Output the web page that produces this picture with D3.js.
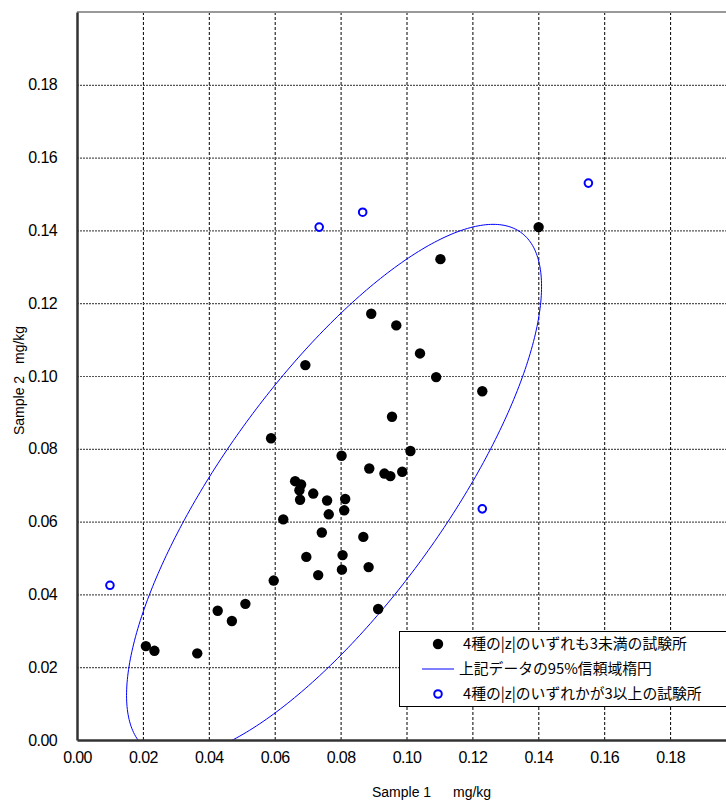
<!DOCTYPE html>
<html>
<head>
<meta charset="utf-8">
<script src="https://cdn.jsdelivr.net/npm/d3@7"></script>
<style>
  html, body { margin: 0; padding: 0; background: #fff; overflow: hidden; }
  svg { display: block; }
  text { font-family: "Liberation Sans", Arial, sans-serif; fill: #000; }
  .jp { font-family: "Noto Sans CJK JP", sans-serif; }
</style>
</head>
<body>
<svg id="chart" width="726" height="803"></svg>
<script>
// Laboratories whose four |z| scores are all below 3
const sample1 = [0.0209, 0.0235, 0.0365, 0.0427, 0.0470, 0.0511, 0.0597, 0.0589, 0.0626, 0.0662,
                 0.0680, 0.0675, 0.0677, 0.0717, 0.0759, 0.0814, 0.0811, 0.0764, 0.0743, 0.0869,
                 0.0696, 0.0806, 0.0885, 0.0732, 0.0804, 0.0914, 0.0803, 0.0887, 0.0933, 0.0951,
                 0.0987, 0.1012, 0.0693, 0.0893, 0.0969, 0.1041, 0.1090, 0.1103, 0.0956, 0.1401,
                 0.1230];
const sample2 = [0.0258, 0.0245, 0.0238, 0.0355, 0.0327, 0.0374, 0.0438, 0.0829, 0.0606, 0.0711,
                 0.0702, 0.0686, 0.0660, 0.0677, 0.0658, 0.0662, 0.0631, 0.0620, 0.0570, 0.0558,
                 0.0503, 0.0508, 0.0475, 0.0453, 0.0468, 0.0360, 0.0781, 0.0746, 0.0732, 0.0725,
                 0.0737, 0.0794, 0.1030, 0.1171, 0.1139, 0.1062, 0.0997, 0.1321, 0.0888, 0.1409,
                 0.0958];
// Laboratories with at least one |z| of 3 or more
const outSample1 = [0.0100, 0.0735, 0.0867, 0.1552, 0.1230];
const outSample2 = [0.0425, 0.1409, 0.1450, 0.1530, 0.0635];

const tickValues = [0.00, 0.02, 0.04, 0.06, 0.08, 0.10, 0.12, 0.14, 0.16, 0.18];
const legendLabels = [
  "4種の|z|のいずれも3未満の試験所",
  "上記データの95%信頼域楕円",
  "4種の|z|のいずれかが3以上の試験所"
];
const xTitle = ["Sample 1", "mg/kg"];
const yTitle = ["Sample 2", "mg/kg"];
const F_95_2_39 = 3.238;   // F quantile, 95 %, (2, n-2) degrees of freedom

const svg = d3.select("#chart");
const plot = { left: 77, right: 736, top: 12, bottom: 740 };

const x = d3.scaleLinear().domain([0, 0.20]).range([plot.left, plot.right]);
const y = d3.scaleLinear().domain([0, 0.20]).range([plot.bottom, plot.top]);

svg.append("defs").append("clipPath").attr("id", "plotClip")
  .append("rect")
  .attr("x", plot.left).attr("y", plot.top)
  .attr("width", plot.right - plot.left).attr("height", plot.bottom - plot.top);

// grid
const gridV = svg.append("g")
  .attr("transform", `translate(0,${plot.bottom})`)
  .call(d3.axisBottom(x).tickValues(tickValues.slice(1).concat([0.20]))
    .tickSize(-(plot.bottom - plot.top)).tickFormat(""));
gridV.select(".domain").remove();
gridV.selectAll("line").attr("stroke", "#000").attr("stroke-width", 1).attr("stroke-dasharray", "3,2");

const gridH = svg.append("g")
  .attr("transform", `translate(${plot.left},0)`)
  .call(d3.axisLeft(y).tickValues(tickValues.slice(1))
    .tickSize(-(plot.right - plot.left)).tickFormat(""));
gridH.select(".domain").remove();
gridH.selectAll("line").attr("stroke", "#555").attr("stroke-width", 1.2).attr("stroke-dasharray", "2,1");

// frame
svg.append("line").attr("x1", plot.left).attr("x2", plot.right)
  .attr("y1", plot.top).attr("y2", plot.top)
  .attr("stroke", "#999").attr("stroke-width", 2);

// 95 % confidence ellipse from the mean and covariance of the in-range points
const n = sample1.length;
const mx = d3.mean(sample1), my = d3.mean(sample2);
let sxx = 0, syy = 0, sxy = 0;
for (let i = 0; i < n; i++) {
  const dx = sample1[i] - mx, dy = sample2[i] - my;
  sxx += dx * dx; syy += dy * dy; sxy += dx * dy;
}
sxx /= (n - 1); syy /= (n - 1); sxy /= (n - 1);
const k = Math.sqrt(2 * (n - 1) / (n - 2) * F_95_2_39);
const a = Math.sqrt(sxx), b = sxy / a, c = Math.sqrt(syy - b * b);
const ellipse = d3.range(0, 361).map(d => {
  const t = d * Math.PI / 180;
  return [mx + k * a * Math.cos(t), my + k * (b * Math.cos(t) + c * Math.sin(t))];
});
svg.append("path")
  .attr("clip-path", "url(#plotClip)")
  .attr("d", d3.line().x(d => x(d[0])).y(d => y(d[1]))(ellipse))
  .attr("fill", "none").attr("stroke", "#0000ff").attr("stroke-width", 1);

// points
svg.append("g").selectAll("circle")
  .data(sample1.map((v, i) => [v, sample2[i]]))
  .join("circle")
  .attr("cx", d => x(d[0])).attr("cy", d => y(d[1])).attr("r", 5.2)
  .attr("fill", "#000");

svg.append("g").selectAll("circle")
  .data(outSample1.map((v, i) => [v, outSample2[i]]))
  .join("circle")
  .attr("cx", d => x(d[0])).attr("cy", d => y(d[1])).attr("r", 3.8)
  .attr("fill", "#fff").attr("stroke", "#0000ff").attr("stroke-width", 2);

// axes
const fmt = d3.format(".2f");
const xAxis = svg.append("g")
  .attr("transform", `translate(0,${plot.bottom})`)
  .call(d3.axisBottom(x).tickValues(tickValues).tickSize(0).tickPadding(12).tickFormat(fmt));
xAxis.select(".domain").attr("stroke", "#333").attr("stroke-width", 2.5);
xAxis.selectAll("text").attr("font-size", 16).attr("letter-spacing", -0.6)
  .attr("font-family", "Liberation Sans, Arial, sans-serif");

const yAxis = svg.append("g")
  .attr("transform", `translate(${plot.left},0)`)
  .call(d3.axisLeft(y).tickValues(tickValues).tickSize(0).tickPadding(20).tickFormat(fmt));
yAxis.select(".domain").attr("stroke", "#333").attr("stroke-width", 2.5);
yAxis.selectAll("text").attr("font-size", 16).attr("letter-spacing", -0.6)
  .attr("font-family", "Liberation Sans, Arial, sans-serif");

// axis titles
svg.append("text").attr("x", 372).attr("y", 797).attr("font-size", 14).text(xTitle[0]);
svg.append("text").attr("x", 453).attr("y", 797).attr("font-size", 14).text(xTitle[1]);
svg.append("text").attr("transform", "translate(24,435) rotate(-90)")
  .attr("font-size", 14).text(yTitle[0]);
svg.append("text").attr("transform", "translate(24,364) rotate(-90)")
  .attr("font-size", 14).text(yTitle[1]);

// legend
const lg = svg.append("g");
lg.append("rect").attr("x", 399.5).attr("y", 631.5).attr("width", 340).attr("height", 75)
  .attr("fill", "#fff").attr("stroke", "#000").attr("stroke-width", 1);
const rowY = [644, 669, 694];
lg.append("circle").attr("cx", 438).attr("cy", rowY[0]).attr("r", 5.2).attr("fill", "#000");
lg.append("line").attr("x1", 422).attr("x2", 454).attr("y1", rowY[1]).attr("y2", rowY[1])
  .attr("stroke", "#0000ff").attr("stroke-width", 1);
lg.append("circle").attr("cx", 438).attr("cy", rowY[2]).attr("r", 3.8)
  .attr("fill", "#fff").attr("stroke", "#0000ff").attr("stroke-width", 2);
const textX = [463, 459, 463];
lg.selectAll("text.lbl").data(legendLabels).join("text")
  .attr("class", "lbl jp")
  .attr("x", (d, i) => textX[i]).attr("y", (d, i) => rowY[i])
  .attr("dy", "0.36em").attr("font-size", 14.8).text(d => d);
</script>
</body>
</html>
